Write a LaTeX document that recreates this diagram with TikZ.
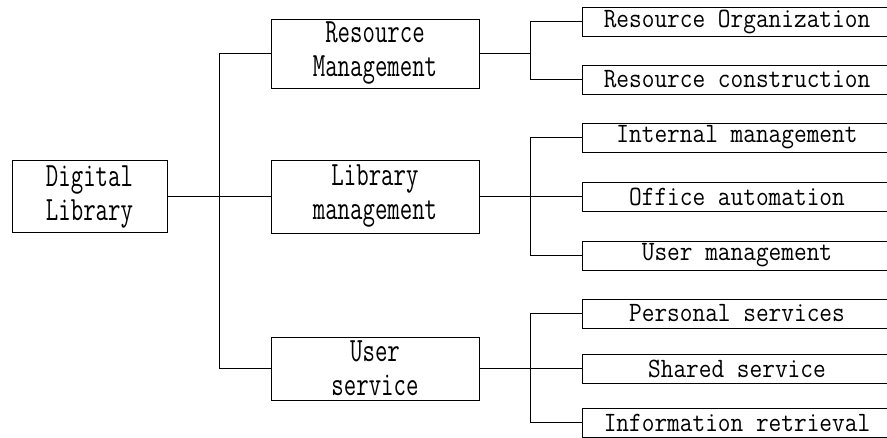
\documentclass[tikz,border=0pt]{standalone}
\usepackage{fontspec}
\newfontfamily\mainboxfont[FakeStretch=0.71]{Latin Modern Mono}
\newfontfamily\subboxfont[FakeStretch=0.88]{Latin Modern Mono}
\begin{document}
\begin{tikzpicture}[x=1pt,y=-1pt,line width=1pt,
			mainbox/.style={
			draw,
			minimum width=208pt,
			inner sep=0pt,
			align=center,
			font=\mainboxfont\fontsize{34}{34}\selectfont},
			subbox/.style={
			draw,
			minimum width=310pt,
			minimum height=29pt,
			inner sep=0pt,
			font=\subboxfont\fontsize{28}{28}\selectfont}]
			\useasboundingbox (0,0) rectangle (887,437);
			\clip (0,0) rectangle (887,437);
			\node [mainbox,minimum width=155pt,minimum height=72pt] (lib) at (89.5,196.5) {Digital\\Library};
			\node [mainbox,minimum height=69pt] (res) at (375,53.5) {Resource\\Management};
			\node [mainbox,minimum height=73pt] (man) at (375,196.5) {Library\\management};
			\node [mainbox,minimum height=63pt] (usr) at (375,368.5) {User\\service};
			\node [subbox] (s1) at (737,21.5) {Resource Organization};
			\node [subbox] (s2) at (737,79.5) {Resource construction};
			\node [subbox] (s3) at (737,137.5) {Internal management};
			\node [subbox] (s4) at (737,196.5) {Office automation};
			\node [subbox] (s5) at (737,255.5) {User management};
			\node [subbox] (s6) at (737,313.5) {Personal services};
			\node [subbox] (s7) at (737,368.5) {Shared service};
			\node [subbox] (s8) at (737,422.5) {Information retrieval};
			\coordinate (j0) at (219.5,196.5);
			\coordinate (j1) at (530.5,53.5);
			\coordinate (j2) at (530.5,196.5);
			\coordinate (j3) at (530.5,368.5);
			\draw (lib.east) -- (man.west);
			\draw (res.west) -| (j0) |- (usr.west);
			\draw (res.east) -- (j1);
			\draw (s1.west) -| (j1) |- (s2.west);
			\draw (man.east) -- (s4.west);
			\draw (s3.west) -| (j2) |- (s5.west);
			\draw (usr.east) -- (j3);
			\draw (s6.west) -| (j3) |- (s8.west);
			\draw (j3) -- (s7.west);
		\end{tikzpicture}
\end{document}
